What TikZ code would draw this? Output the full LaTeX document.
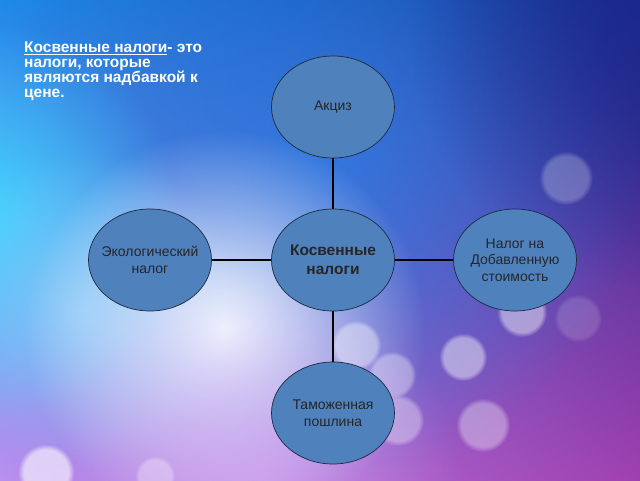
\documentclass[tikz,border=0pt]{standalone}
\usepackage{fontspec}
\setmainfont{Liberation Sans}
\usetikzlibrary{shapes.geometric,fadings,shadings}
\definecolor{bubblefill}{HTML}{4F81BD}
\definecolor{bubbleedge}{HTML}{1C2B40}
\definecolor{bgul}{RGB}{30,138,232}
\definecolor{bgur}{RGB}{26,44,140}
\definecolor{bgll}{RGB}{184,144,240}
\definecolor{bglr}{RGB}{160,64,176}
\definecolor{skyblue}{RGB}{42,127,232}
\definecolor{deepblue}{RGB}{28,40,140}
\definecolor{cyanglow}{RGB}{60,215,255}
\definecolor{lightblue}{RGB}{140,205,250}
\definecolor{paleglow}{RGB}{242,250,255}
\definecolor{pinkglow}{RGB}{216,176,248}
\tikzfading[name=softglow,inner color=transparent!0,outer color=transparent!100]

\begin{document}
\begin{tikzpicture}[x=1pt,y=-1pt,line join=round,
  bubble/.style={ellipse,draw=bubbleedge,line width=.7pt,fill=bubblefill,
    minimum width=123pt,minimum height=102pt,inner xsep=-14pt,inner ysep=-10pt,
    align=center,text=black!85,font=\fontsize{14}{16.5}\selectfont},
  link/.style={line width=2.2pt,black},
  glow/.style={path fading=softglow},
  spot/.style={white,path fading=circle with fuzzy edge 20 percent}]
  \useasboundingbox (0,0) rectangle (640,480);
  \clip (0,0) rectangle (640,480);
  % background
  \shade[upper left=bgul,upper right=bgur,lower left=bgll,lower right=bglr]
    (0,0) rectangle (640,480);
  \fill[glow,skyblue,opacity=.75] (320,160) circle (320);
  \fill[glow,deepblue,opacity=.85] (670,30) circle (260);
  \fill[glow,cyanglow] (-20,220) circle (200);
  \fill[glow,lightblue,opacity=.8] (80,310) circle (160);
  \fill[glow,paleglow] (225,330) circle (200);
  \fill[glow,pinkglow,opacity=.6] (260,480) circle (200);
  % spots
  \fill[spot,opacity=.25] (566,178) circle (27);
  \fill[spot,opacity=.4] (356,345) circle (25);
  \fill[spot,opacity=.35] (392,375) circle (24);
  \fill[spot,opacity=.35] (398,420) circle (26);
  \fill[spot,opacity=.45] (463,357) circle (24);
  \fill[spot,opacity=.35] (483,425) circle (27);
  \fill[spot,opacity=.45] (522,312) circle (25);
  \fill[spot,opacity=.15] (578,318) circle (24);
  \fill[spot,opacity=.6] (46,472) circle (28);
  \fill[spot,opacity=.3] (155,476) circle (20);
  % title
  \node[anchor=north west,inner sep=0pt,align=left,text=white,
    font=\bfseries\fontsize{15.5}{14.3}\selectfont]
    (title) at (24,42) {\lineskiplimit=-20pt\relax\underline{Косвенные налоги}- это\\налоги, которые\\являются надбавкой к\\цене.};
  % circles
  \node[bubble,font=\bfseries\fontsize{15.5}{19}\selectfont] (kosv) at (333,260) {Косвенные\\налоги};
  \node[bubble] (akciz) at (333,107) {Акциз};
  \node[bubble] (ekol) at (150,260) {Экологический\\налог};
  \node[bubble] (nds) at (515,260) {Налог на\\Добавленную\\стоимость};
  \node[bubble] (tamozh) at (333,413) {Таможенная\\пошлина};
  \draw[link] (kosv) -- (akciz);
  \draw[link] (kosv) -- (ekol);
  \draw[link] (kosv) -- (nds);
  \draw[link] (kosv) -- (tamozh);
\end{tikzpicture}
\end{document}
